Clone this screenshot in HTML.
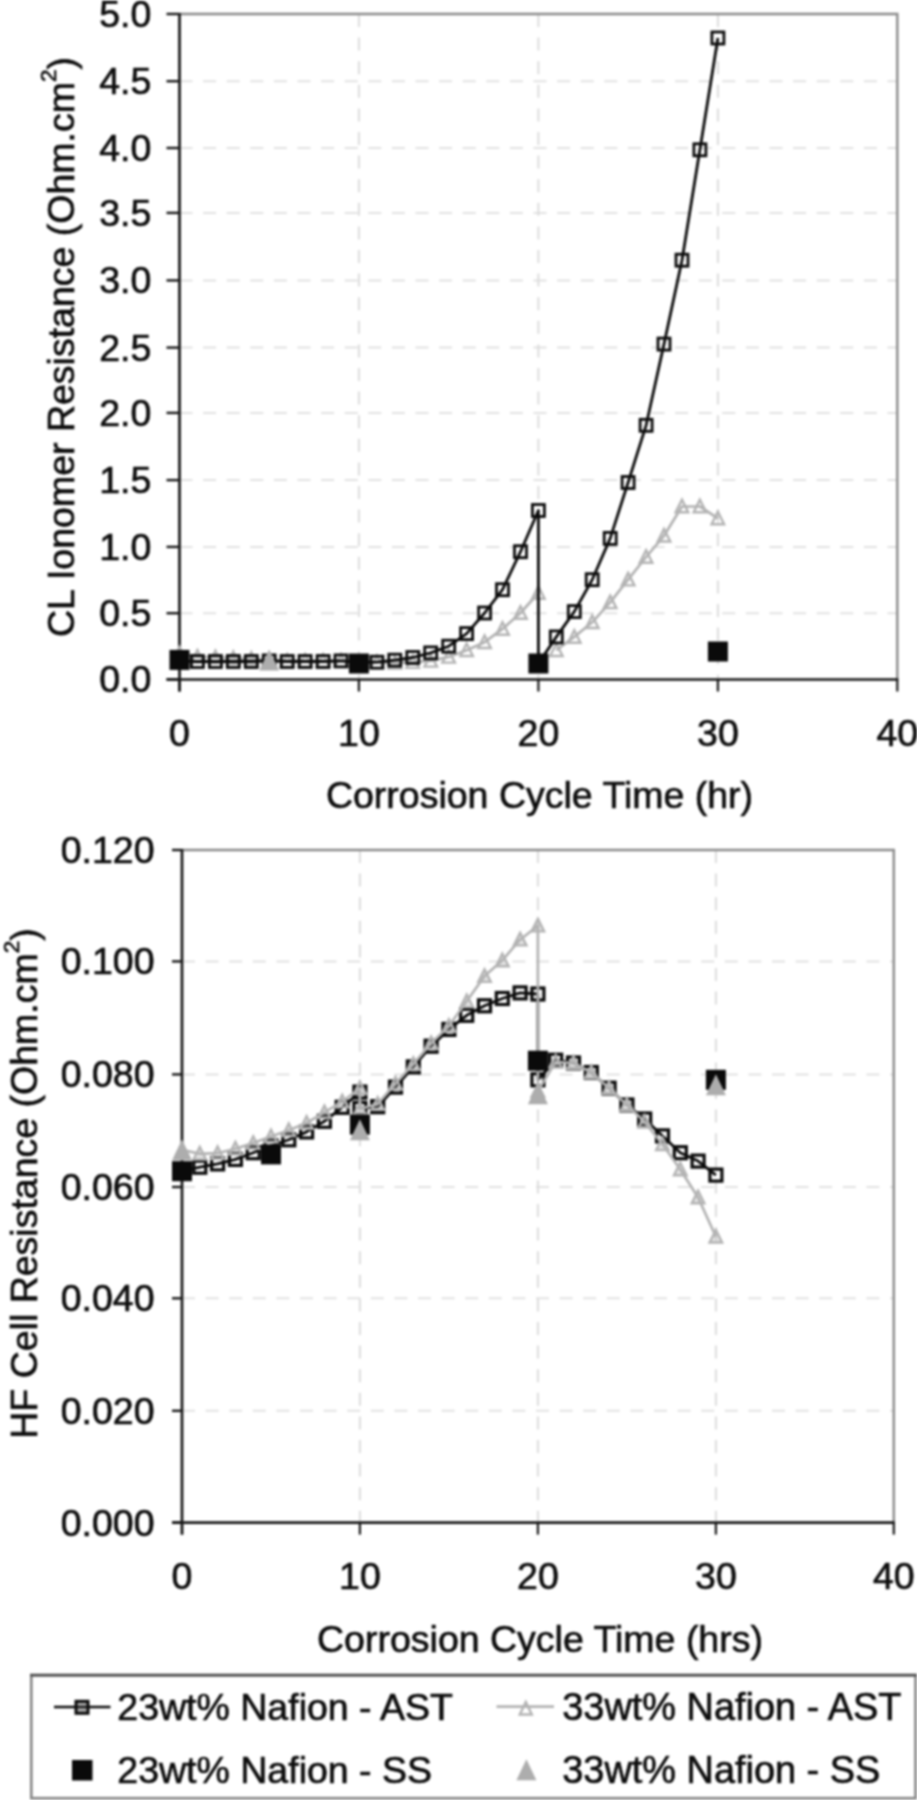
<!DOCTYPE html>
<html><head><meta charset="utf-8"><title>chart</title>
<style>
html,body{margin:0;padding:0;background:#fff;}
body{width:917px;height:1800px;overflow:hidden;font-family:"Liberation Sans", sans-serif;}
text{stroke:#0c0c0c;stroke-width:0.65px;}
svg{display:block;font-family:"Liberation Sans", sans-serif;fill:#0c0c0c;filter:blur(1px);}
</style></head><body>
<svg width="917" height="1800" viewBox="0 0 917 1800">
<rect x="0" y="0" width="917" height="1800" fill="#fff"/>
<line x1="179.5" y1="613.2" x2="897.3" y2="613.2" stroke="#e2e2e2" stroke-width="2" stroke-dasharray="13 10.6"/>
<line x1="179.5" y1="546.9" x2="897.3" y2="546.9" stroke="#e2e2e2" stroke-width="2" stroke-dasharray="13 10.6"/>
<line x1="179.5" y1="480.1" x2="897.3" y2="480.1" stroke="#e2e2e2" stroke-width="2" stroke-dasharray="13 10.6"/>
<line x1="179.5" y1="412.9" x2="897.3" y2="412.9" stroke="#e2e2e2" stroke-width="2" stroke-dasharray="13 10.6"/>
<line x1="179.5" y1="347.6" x2="897.3" y2="347.6" stroke="#e2e2e2" stroke-width="2" stroke-dasharray="13 10.6"/>
<line x1="179.5" y1="280.4" x2="897.3" y2="280.4" stroke="#e2e2e2" stroke-width="2" stroke-dasharray="13 10.6"/>
<line x1="179.5" y1="212.9" x2="897.3" y2="212.9" stroke="#e2e2e2" stroke-width="2" stroke-dasharray="13 10.6"/>
<line x1="179.5" y1="148.0" x2="897.3" y2="148.0" stroke="#e2e2e2" stroke-width="2" stroke-dasharray="13 10.6"/>
<line x1="179.5" y1="81.2" x2="897.3" y2="81.2" stroke="#e2e2e2" stroke-width="2" stroke-dasharray="13 10.6"/>
<line x1="358.9" y1="14.0" x2="358.9" y2="679.5" stroke="#dcdcdc" stroke-width="2" stroke-dasharray="13 10.6"/>
<line x1="538.4" y1="14.0" x2="538.4" y2="679.5" stroke="#dcdcdc" stroke-width="2" stroke-dasharray="13 10.6"/>
<line x1="717.9" y1="14.0" x2="717.9" y2="679.5" stroke="#dcdcdc" stroke-width="2" stroke-dasharray="13 10.6"/>
<polyline points="179.5,14.0 897.3,14.0 897.3,679.5" fill="none" stroke="#8a8a8a" stroke-width="2.4"/>
<line x1="179.5" y1="13.0" x2="179.5" y2="691.5" stroke="#161616" stroke-width="2.7"/>
<line x1="166.5" y1="679.5" x2="898.3" y2="679.5" stroke="#161616" stroke-width="2.7"/>
<line x1="166.5" y1="679.4" x2="179.5" y2="679.4" stroke="#161616" stroke-width="2.4"/>
<text x="151.3" y="692.4" font-size="37.5" text-anchor="end" >0.0</text>
<line x1="166.5" y1="613.2" x2="179.5" y2="613.2" stroke="#161616" stroke-width="2.4"/>
<text x="151.3" y="626.2" font-size="37.5" text-anchor="end" >0.5</text>
<line x1="166.5" y1="546.9" x2="179.5" y2="546.9" stroke="#161616" stroke-width="2.4"/>
<text x="151.3" y="559.9" font-size="37.5" text-anchor="end" >1.0</text>
<line x1="166.5" y1="480.1" x2="179.5" y2="480.1" stroke="#161616" stroke-width="2.4"/>
<text x="151.3" y="493.1" font-size="37.5" text-anchor="end" >1.5</text>
<line x1="166.5" y1="412.9" x2="179.5" y2="412.9" stroke="#161616" stroke-width="2.4"/>
<text x="151.3" y="425.9" font-size="37.5" text-anchor="end" >2.0</text>
<line x1="166.5" y1="347.6" x2="179.5" y2="347.6" stroke="#161616" stroke-width="2.4"/>
<text x="151.3" y="360.6" font-size="37.5" text-anchor="end" >2.5</text>
<line x1="166.5" y1="280.4" x2="179.5" y2="280.4" stroke="#161616" stroke-width="2.4"/>
<text x="151.3" y="293.4" font-size="37.5" text-anchor="end" >3.0</text>
<line x1="166.5" y1="212.9" x2="179.5" y2="212.9" stroke="#161616" stroke-width="2.4"/>
<text x="151.3" y="225.9" font-size="37.5" text-anchor="end" >3.5</text>
<line x1="166.5" y1="148.0" x2="179.5" y2="148.0" stroke="#161616" stroke-width="2.4"/>
<text x="151.3" y="161.0" font-size="37.5" text-anchor="end" >4.0</text>
<line x1="166.5" y1="81.2" x2="179.5" y2="81.2" stroke="#161616" stroke-width="2.4"/>
<text x="151.3" y="94.2" font-size="37.5" text-anchor="end" >4.5</text>
<line x1="166.5" y1="14.0" x2="179.5" y2="14.0" stroke="#161616" stroke-width="2.4"/>
<text x="151.3" y="27.0" font-size="37.5" text-anchor="end" >5.0</text>
<line x1="179.5" y1="679.5" x2="179.5" y2="691.5" stroke="#161616" stroke-width="2.2"/>
<text x="179.5" y="745.5" font-size="37.5" text-anchor="middle" >0</text>
<line x1="358.9" y1="679.5" x2="358.9" y2="691.5" stroke="#161616" stroke-width="2.2"/>
<text x="358.9" y="745.5" font-size="37.5" text-anchor="middle" >10</text>
<line x1="538.4" y1="679.5" x2="538.4" y2="691.5" stroke="#161616" stroke-width="2.2"/>
<text x="538.4" y="745.5" font-size="37.5" text-anchor="middle" >20</text>
<line x1="717.9" y1="679.5" x2="717.9" y2="691.5" stroke="#161616" stroke-width="2.2"/>
<text x="717.9" y="745.5" font-size="37.5" text-anchor="middle" >30</text>
<line x1="897.3" y1="679.5" x2="897.3" y2="691.5" stroke="#161616" stroke-width="2.2"/>
<text x="897.3" y="745.5" font-size="37.5" text-anchor="middle" >40</text>
<text x="539.5" y="808.0" font-size="37.5" text-anchor="middle" >Corrosion Cycle Time (hr)</text>
<text transform="translate(74.3,347) rotate(-90)" font-size="37.5" text-anchor="middle">CL Ionomer Resistance (Ohm.cm<tspan font-size="22.5" dy="-18.5">2</tspan><tspan dy="18.5">)</tspan></text>
<polyline points="179.5,653.5 197.4,656.9 215.4,657.5 233.3,658.2 251.3,658.9 269.2,659.5 287.2,660.9 305.1,660.9 323.1,660.9 341.0,660.9 358.9,662.2 376.9,662.2 394.8,662.9 412.8,662.2 430.7,660.9 448.7,656.9 466.6,650.2 484.6,642.2 502.5,628.9 520.5,613.0 538.4,593.0" fill="none" stroke="#b3b3b3" stroke-width="2.7" stroke-linejoin="round"/>
<polygon points="179.5,646.8 185.8,659.3 173.2,659.3" fill="none" stroke="#b3b3b3" stroke-width="2.4" stroke-linejoin="miter"/>
<polygon points="197.4,650.1 203.7,662.6 191.2,662.6" fill="none" stroke="#b3b3b3" stroke-width="2.4" stroke-linejoin="miter"/>
<polygon points="215.4,650.8 221.6,663.3 209.1,663.3" fill="none" stroke="#b3b3b3" stroke-width="2.4" stroke-linejoin="miter"/>
<polygon points="233.3,651.5 239.6,664.0 227.1,664.0" fill="none" stroke="#b3b3b3" stroke-width="2.4" stroke-linejoin="miter"/>
<polygon points="251.3,652.1 257.5,664.6 245.0,664.6" fill="none" stroke="#b3b3b3" stroke-width="2.4" stroke-linejoin="miter"/>
<polygon points="269.2,652.8 275.5,665.3 263.0,665.3" fill="none" stroke="#b3b3b3" stroke-width="2.4" stroke-linejoin="miter"/>
<polygon points="287.2,654.1 293.4,666.6 280.9,666.6" fill="none" stroke="#b3b3b3" stroke-width="2.4" stroke-linejoin="miter"/>
<polygon points="305.1,654.1 311.4,666.6 298.9,666.6" fill="none" stroke="#b3b3b3" stroke-width="2.4" stroke-linejoin="miter"/>
<polygon points="323.1,654.1 329.3,666.6 316.8,666.6" fill="none" stroke="#b3b3b3" stroke-width="2.4" stroke-linejoin="miter"/>
<polygon points="341.0,654.1 347.3,666.6 334.8,666.6" fill="none" stroke="#b3b3b3" stroke-width="2.4" stroke-linejoin="miter"/>
<polygon points="358.9,655.4 365.2,667.9 352.7,667.9" fill="none" stroke="#b3b3b3" stroke-width="2.4" stroke-linejoin="miter"/>
<polygon points="376.9,655.4 383.1,667.9 370.6,667.9" fill="none" stroke="#b3b3b3" stroke-width="2.4" stroke-linejoin="miter"/>
<polygon points="394.8,656.1 401.1,668.6 388.6,668.6" fill="none" stroke="#b3b3b3" stroke-width="2.4" stroke-linejoin="miter"/>
<polygon points="412.8,655.4 419.0,667.9 406.5,667.9" fill="none" stroke="#b3b3b3" stroke-width="2.4" stroke-linejoin="miter"/>
<polygon points="430.7,654.1 437.0,666.6 424.5,666.6" fill="none" stroke="#b3b3b3" stroke-width="2.4" stroke-linejoin="miter"/>
<polygon points="448.7,650.1 454.9,662.6 442.4,662.6" fill="none" stroke="#b3b3b3" stroke-width="2.4" stroke-linejoin="miter"/>
<polygon points="466.6,643.5 472.9,656.0 460.4,656.0" fill="none" stroke="#b3b3b3" stroke-width="2.4" stroke-linejoin="miter"/>
<polygon points="484.6,635.5 490.8,648.0 478.3,648.0" fill="none" stroke="#b3b3b3" stroke-width="2.4" stroke-linejoin="miter"/>
<polygon points="502.5,622.2 508.8,634.7 496.3,634.7" fill="none" stroke="#b3b3b3" stroke-width="2.4" stroke-linejoin="miter"/>
<polygon points="520.5,606.2 526.7,618.7 514.2,618.7" fill="none" stroke="#b3b3b3" stroke-width="2.4" stroke-linejoin="miter"/>
<polygon points="538.4,586.2 544.6,598.7 532.1,598.7" fill="none" stroke="#b3b3b3" stroke-width="2.4" stroke-linejoin="miter"/>
<polyline points="556.3,650.2 574.3,636.9 592.2,622.3 610.2,602.3 628.1,579.7 646.1,557.0 664.0,535.8 682.0,506.5 699.9,506.5 717.9,518.4" fill="none" stroke="#b3b3b3" stroke-width="2.7" stroke-linejoin="round"/>
<polygon points="556.3,643.5 562.6,656.0 550.1,656.0" fill="none" stroke="#b3b3b3" stroke-width="2.4" stroke-linejoin="miter"/>
<polygon points="574.3,630.2 580.5,642.7 568.0,642.7" fill="none" stroke="#b3b3b3" stroke-width="2.4" stroke-linejoin="miter"/>
<polygon points="592.2,615.5 598.5,628.0 586.0,628.0" fill="none" stroke="#b3b3b3" stroke-width="2.4" stroke-linejoin="miter"/>
<polygon points="610.2,595.6 616.4,608.1 603.9,608.1" fill="none" stroke="#b3b3b3" stroke-width="2.4" stroke-linejoin="miter"/>
<polygon points="628.1,572.9 634.4,585.4 621.9,585.4" fill="none" stroke="#b3b3b3" stroke-width="2.4" stroke-linejoin="miter"/>
<polygon points="646.1,550.3 652.3,562.8 639.8,562.8" fill="none" stroke="#b3b3b3" stroke-width="2.4" stroke-linejoin="miter"/>
<polygon points="664.0,529.0 670.3,541.5 657.8,541.5" fill="none" stroke="#b3b3b3" stroke-width="2.4" stroke-linejoin="miter"/>
<polygon points="682.0,499.7 688.2,512.2 675.7,512.2" fill="none" stroke="#b3b3b3" stroke-width="2.4" stroke-linejoin="miter"/>
<polygon points="699.9,499.7 706.2,512.2 693.7,512.2" fill="none" stroke="#b3b3b3" stroke-width="2.4" stroke-linejoin="miter"/>
<polygon points="717.9,511.7 724.1,524.2 711.6,524.2" fill="none" stroke="#b3b3b3" stroke-width="2.4" stroke-linejoin="miter"/>
<polyline points="179.5,660.9 197.4,661.5 215.4,661.5 233.3,661.5 251.3,661.5 269.2,660.9 287.2,661.5 305.1,661.5 323.1,661.5 341.0,660.9 358.9,662.2 376.9,662.2 394.8,660.2 412.8,657.5 430.7,652.9 448.7,646.2 466.6,633.6 484.6,613.0 502.5,589.7 520.5,551.7 538.4,510.5 538.4,663.5 556.3,636.9 574.3,611.6 592.2,579.7 610.2,538.4 628.1,482.5 646.1,425.3 664.0,344.1 682.0,260.2 699.9,149.8 717.9,38.0" fill="none" stroke="#0a0a0a" stroke-width="2.8" stroke-linejoin="round"/>
<rect x="173.5" y="654.9" width="12" height="12" fill="none" stroke="#0a0a0a" stroke-width="2.8"/>
<rect x="191.4" y="655.5" width="12" height="12" fill="none" stroke="#0a0a0a" stroke-width="2.8"/>
<rect x="209.4" y="655.5" width="12" height="12" fill="none" stroke="#0a0a0a" stroke-width="2.8"/>
<rect x="227.3" y="655.5" width="12" height="12" fill="none" stroke="#0a0a0a" stroke-width="2.8"/>
<rect x="245.3" y="655.5" width="12" height="12" fill="none" stroke="#0a0a0a" stroke-width="2.8"/>
<rect x="263.2" y="654.9" width="12" height="12" fill="none" stroke="#0a0a0a" stroke-width="2.8"/>
<rect x="281.2" y="655.5" width="12" height="12" fill="none" stroke="#0a0a0a" stroke-width="2.8"/>
<rect x="299.1" y="655.5" width="12" height="12" fill="none" stroke="#0a0a0a" stroke-width="2.8"/>
<rect x="317.1" y="655.5" width="12" height="12" fill="none" stroke="#0a0a0a" stroke-width="2.8"/>
<rect x="335.0" y="654.9" width="12" height="12" fill="none" stroke="#0a0a0a" stroke-width="2.8"/>
<rect x="352.9" y="656.2" width="12" height="12" fill="none" stroke="#0a0a0a" stroke-width="2.8"/>
<rect x="370.9" y="656.2" width="12" height="12" fill="none" stroke="#0a0a0a" stroke-width="2.8"/>
<rect x="388.8" y="654.2" width="12" height="12" fill="none" stroke="#0a0a0a" stroke-width="2.8"/>
<rect x="406.8" y="651.5" width="12" height="12" fill="none" stroke="#0a0a0a" stroke-width="2.8"/>
<rect x="424.7" y="646.9" width="12" height="12" fill="none" stroke="#0a0a0a" stroke-width="2.8"/>
<rect x="442.7" y="640.2" width="12" height="12" fill="none" stroke="#0a0a0a" stroke-width="2.8"/>
<rect x="460.6" y="627.6" width="12" height="12" fill="none" stroke="#0a0a0a" stroke-width="2.8"/>
<rect x="478.6" y="607.0" width="12" height="12" fill="none" stroke="#0a0a0a" stroke-width="2.8"/>
<rect x="496.5" y="583.7" width="12" height="12" fill="none" stroke="#0a0a0a" stroke-width="2.8"/>
<rect x="514.5" y="545.7" width="12" height="12" fill="none" stroke="#0a0a0a" stroke-width="2.8"/>
<rect x="532.4" y="504.5" width="12" height="12" fill="none" stroke="#0a0a0a" stroke-width="2.8"/>
<rect x="532.4" y="657.5" width="12" height="12" fill="none" stroke="#0a0a0a" stroke-width="2.8"/>
<rect x="550.3" y="630.9" width="12" height="12" fill="none" stroke="#0a0a0a" stroke-width="2.8"/>
<rect x="568.3" y="605.6" width="12" height="12" fill="none" stroke="#0a0a0a" stroke-width="2.8"/>
<rect x="586.2" y="573.7" width="12" height="12" fill="none" stroke="#0a0a0a" stroke-width="2.8"/>
<rect x="604.2" y="532.4" width="12" height="12" fill="none" stroke="#0a0a0a" stroke-width="2.8"/>
<rect x="622.1" y="476.5" width="12" height="12" fill="none" stroke="#0a0a0a" stroke-width="2.8"/>
<rect x="640.1" y="419.3" width="12" height="12" fill="none" stroke="#0a0a0a" stroke-width="2.8"/>
<rect x="658.0" y="338.1" width="12" height="12" fill="none" stroke="#0a0a0a" stroke-width="2.8"/>
<rect x="676.0" y="254.2" width="12" height="12" fill="none" stroke="#0a0a0a" stroke-width="2.8"/>
<rect x="693.9" y="143.8" width="12" height="12" fill="none" stroke="#0a0a0a" stroke-width="2.8"/>
<rect x="711.9" y="32.0" width="12" height="12" fill="none" stroke="#0a0a0a" stroke-width="2.8"/>
<polygon points="269.2,649.4 279.2,670.4 259.2,670.4" fill="#adadad" stroke="#adadad" stroke-width="0" stroke-linejoin="miter"/>
<rect x="169.5" y="649.9" width="20" height="20" fill="#0a0a0a"/>
<rect x="348.9" y="653.5" width="20" height="20" fill="#0a0a0a"/>
<rect x="528.4" y="653.5" width="20" height="20" fill="#0a0a0a"/>
<rect x="707.9" y="641.5" width="20" height="20" fill="#0a0a0a"/>
<line x1="182.0" y1="1410.8" x2="893.8" y2="1410.8" stroke="#e2e2e2" stroke-width="2" stroke-dasharray="13 10.6"/>
<line x1="182.0" y1="1298.3" x2="893.8" y2="1298.3" stroke="#e2e2e2" stroke-width="2" stroke-dasharray="13 10.6"/>
<line x1="182.0" y1="1187.0" x2="893.8" y2="1187.0" stroke="#e2e2e2" stroke-width="2" stroke-dasharray="13 10.6"/>
<line x1="182.0" y1="1074.4" x2="893.8" y2="1074.4" stroke="#e2e2e2" stroke-width="2" stroke-dasharray="13 10.6"/>
<line x1="182.0" y1="961.4" x2="893.8" y2="961.4" stroke="#e2e2e2" stroke-width="2" stroke-dasharray="13 10.6"/>
<line x1="359.9" y1="850.0" x2="359.9" y2="1522.6" stroke="#dcdcdc" stroke-width="2" stroke-dasharray="13 10.6"/>
<line x1="537.9" y1="850.0" x2="537.9" y2="1522.6" stroke="#dcdcdc" stroke-width="2" stroke-dasharray="13 10.6"/>
<line x1="715.9" y1="850.0" x2="715.9" y2="1522.6" stroke="#dcdcdc" stroke-width="2" stroke-dasharray="13 10.6"/>
<polyline points="182.0,850.0 893.8,850.0 893.8,1522.6" fill="none" stroke="#8a8a8a" stroke-width="2.4"/>
<line x1="182.0" y1="849.0" x2="182.0" y2="1534.6" stroke="#161616" stroke-width="2.7"/>
<line x1="172.0" y1="1522.6" x2="894.8" y2="1522.6" stroke="#161616" stroke-width="2.7"/>
<line x1="172.0" y1="1522.6" x2="182.0" y2="1522.6" stroke="#161616" stroke-width="2.4"/>
<text x="154.5" y="1535.6" font-size="37.5" text-anchor="end" >0.000</text>
<line x1="172.0" y1="1410.8" x2="182.0" y2="1410.8" stroke="#161616" stroke-width="2.4"/>
<text x="154.5" y="1423.8" font-size="37.5" text-anchor="end" >0.020</text>
<line x1="172.0" y1="1298.3" x2="182.0" y2="1298.3" stroke="#161616" stroke-width="2.4"/>
<text x="154.5" y="1311.3" font-size="37.5" text-anchor="end" >0.040</text>
<line x1="172.0" y1="1187.0" x2="182.0" y2="1187.0" stroke="#161616" stroke-width="2.4"/>
<text x="154.5" y="1200.0" font-size="37.5" text-anchor="end" >0.060</text>
<line x1="172.0" y1="1074.4" x2="182.0" y2="1074.4" stroke="#161616" stroke-width="2.4"/>
<text x="154.5" y="1087.4" font-size="37.5" text-anchor="end" >0.080</text>
<line x1="172.0" y1="961.4" x2="182.0" y2="961.4" stroke="#161616" stroke-width="2.4"/>
<text x="154.5" y="974.4" font-size="37.5" text-anchor="end" >0.100</text>
<line x1="172.0" y1="850.0" x2="182.0" y2="850.0" stroke="#161616" stroke-width="2.4"/>
<text x="154.5" y="863.0" font-size="37.5" text-anchor="end" >0.120</text>
<line x1="182.0" y1="1522.6" x2="182.0" y2="1534.6" stroke="#161616" stroke-width="2.2"/>
<text x="182.0" y="1588.6" font-size="37.5" text-anchor="middle" >0</text>
<line x1="359.9" y1="1522.6" x2="359.9" y2="1534.6" stroke="#161616" stroke-width="2.2"/>
<text x="359.9" y="1588.6" font-size="37.5" text-anchor="middle" >10</text>
<line x1="537.9" y1="1522.6" x2="537.9" y2="1534.6" stroke="#161616" stroke-width="2.2"/>
<text x="537.9" y="1588.6" font-size="37.5" text-anchor="middle" >20</text>
<line x1="715.9" y1="1522.6" x2="715.9" y2="1534.6" stroke="#161616" stroke-width="2.2"/>
<text x="715.9" y="1588.6" font-size="37.5" text-anchor="middle" >30</text>
<line x1="893.8" y1="1522.6" x2="893.8" y2="1534.6" stroke="#161616" stroke-width="2.2"/>
<text x="893.8" y="1588.6" font-size="37.5" text-anchor="middle" >40</text>
<text x="540.0" y="1652.0" font-size="37.5" text-anchor="middle" >Corrosion Cycle Time (hrs)</text>
<text transform="translate(37.3,1183.5) rotate(-90)" font-size="37.5" text-anchor="middle">HF Cell Resistance (Ohm.cm<tspan font-size="22.5" dy="-18.5">2</tspan><tspan dy="18.5">)</tspan></text>
<polyline points="182.0,1171.2 199.8,1167.2 217.6,1163.9 235.4,1159.4 253.2,1152.7 271.0,1145.9 288.8,1139.8 306.6,1131.9 324.4,1121.3 342.2,1107.3 359.9,1092.1 359.9,1108.4 377.7,1106.7 395.5,1087.1 413.3,1066.9 431.1,1046.2 448.9,1029.4 466.7,1015.3 484.5,1005.8 502.3,998.5 520.1,992.9 537.9,994.0 537.9,1079.8 555.7,1060.2 573.5,1063.0 591.3,1072.5 609.1,1088.2 626.9,1105.0 644.7,1119.0 662.5,1135.9 680.3,1152.7 698.1,1161.1 715.9,1175.1" fill="none" stroke="#0a0a0a" stroke-width="2.8" stroke-linejoin="round"/>
<rect x="176.0" y="1165.2" width="12" height="12" fill="none" stroke="#0a0a0a" stroke-width="3.2"/>
<rect x="193.8" y="1161.2" width="12" height="12" fill="none" stroke="#0a0a0a" stroke-width="3.2"/>
<rect x="211.6" y="1157.9" width="12" height="12" fill="none" stroke="#0a0a0a" stroke-width="3.2"/>
<rect x="229.4" y="1153.4" width="12" height="12" fill="none" stroke="#0a0a0a" stroke-width="3.2"/>
<rect x="247.2" y="1146.7" width="12" height="12" fill="none" stroke="#0a0a0a" stroke-width="3.2"/>
<rect x="265.0" y="1139.9" width="12" height="12" fill="none" stroke="#0a0a0a" stroke-width="3.2"/>
<rect x="282.8" y="1133.8" width="12" height="12" fill="none" stroke="#0a0a0a" stroke-width="3.2"/>
<rect x="300.6" y="1125.9" width="12" height="12" fill="none" stroke="#0a0a0a" stroke-width="3.2"/>
<rect x="318.4" y="1115.3" width="12" height="12" fill="none" stroke="#0a0a0a" stroke-width="3.2"/>
<rect x="336.2" y="1101.3" width="12" height="12" fill="none" stroke="#0a0a0a" stroke-width="3.2"/>
<rect x="353.9" y="1086.1" width="12" height="12" fill="none" stroke="#0a0a0a" stroke-width="3.2"/>
<rect x="353.9" y="1102.4" width="12" height="12" fill="none" stroke="#0a0a0a" stroke-width="3.2"/>
<rect x="371.7" y="1100.7" width="12" height="12" fill="none" stroke="#0a0a0a" stroke-width="3.2"/>
<rect x="389.5" y="1081.1" width="12" height="12" fill="none" stroke="#0a0a0a" stroke-width="3.2"/>
<rect x="407.3" y="1060.9" width="12" height="12" fill="none" stroke="#0a0a0a" stroke-width="3.2"/>
<rect x="425.1" y="1040.2" width="12" height="12" fill="none" stroke="#0a0a0a" stroke-width="3.2"/>
<rect x="442.9" y="1023.4" width="12" height="12" fill="none" stroke="#0a0a0a" stroke-width="3.2"/>
<rect x="460.7" y="1009.3" width="12" height="12" fill="none" stroke="#0a0a0a" stroke-width="3.2"/>
<rect x="478.5" y="999.8" width="12" height="12" fill="none" stroke="#0a0a0a" stroke-width="3.2"/>
<rect x="496.3" y="992.5" width="12" height="12" fill="none" stroke="#0a0a0a" stroke-width="3.2"/>
<rect x="514.1" y="986.9" width="12" height="12" fill="none" stroke="#0a0a0a" stroke-width="3.2"/>
<rect x="531.9" y="988.0" width="12" height="12" fill="none" stroke="#0a0a0a" stroke-width="3.2"/>
<rect x="531.9" y="1073.8" width="12" height="12" fill="none" stroke="#0a0a0a" stroke-width="3.2"/>
<rect x="549.7" y="1054.2" width="12" height="12" fill="none" stroke="#0a0a0a" stroke-width="3.2"/>
<rect x="567.5" y="1057.0" width="12" height="12" fill="none" stroke="#0a0a0a" stroke-width="3.2"/>
<rect x="585.3" y="1066.5" width="12" height="12" fill="none" stroke="#0a0a0a" stroke-width="3.2"/>
<rect x="603.1" y="1082.2" width="12" height="12" fill="none" stroke="#0a0a0a" stroke-width="3.2"/>
<rect x="620.9" y="1099.0" width="12" height="12" fill="none" stroke="#0a0a0a" stroke-width="3.2"/>
<rect x="638.7" y="1113.0" width="12" height="12" fill="none" stroke="#0a0a0a" stroke-width="3.2"/>
<rect x="656.5" y="1129.9" width="12" height="12" fill="none" stroke="#0a0a0a" stroke-width="3.2"/>
<rect x="674.3" y="1146.7" width="12" height="12" fill="none" stroke="#0a0a0a" stroke-width="3.2"/>
<rect x="692.1" y="1155.1" width="12" height="12" fill="none" stroke="#0a0a0a" stroke-width="3.2"/>
<rect x="709.9" y="1169.1" width="12" height="12" fill="none" stroke="#0a0a0a" stroke-width="3.2"/>
<polyline points="182.0,1149.9 199.8,1153.8 217.6,1153.2 235.4,1148.7 253.2,1143.1 271.0,1136.4 288.8,1130.2 306.6,1123.0 324.4,1112.3 342.2,1101.7 359.9,1088.2 359.9,1109.0 377.7,1103.9 395.5,1083.7 413.3,1064.1 431.1,1043.4 448.9,1026.0 466.7,1001.3 484.5,976.1 502.3,960.4 520.1,939.7 537.9,925.7 537.9,1091.0 555.7,1061.9 573.5,1063.0 591.3,1072.5 609.1,1088.2 626.9,1105.0 644.7,1121.8 662.5,1144.3 680.3,1169.5 698.1,1197.5 715.9,1236.7" fill="none" stroke="#b3b3b3" stroke-width="2.7" stroke-linejoin="round"/>
<polygon points="182.0,1143.1 188.2,1155.6 175.8,1155.6" fill="rgba(179,179,179,0.35)" stroke="#b3b3b3" stroke-width="2.4" stroke-linejoin="miter"/>
<polygon points="199.8,1147.0 206.0,1159.5 193.5,1159.5" fill="rgba(179,179,179,0.35)" stroke="#b3b3b3" stroke-width="2.4" stroke-linejoin="miter"/>
<polygon points="217.6,1146.5 223.8,1159.0 211.3,1159.0" fill="rgba(179,179,179,0.35)" stroke="#b3b3b3" stroke-width="2.4" stroke-linejoin="miter"/>
<polygon points="235.4,1142.0 241.6,1154.5 229.1,1154.5" fill="rgba(179,179,179,0.35)" stroke="#b3b3b3" stroke-width="2.4" stroke-linejoin="miter"/>
<polygon points="253.2,1136.4 259.4,1148.9 246.9,1148.9" fill="rgba(179,179,179,0.35)" stroke="#b3b3b3" stroke-width="2.4" stroke-linejoin="miter"/>
<polygon points="271.0,1129.7 277.2,1142.2 264.7,1142.2" fill="rgba(179,179,179,0.35)" stroke="#b3b3b3" stroke-width="2.4" stroke-linejoin="miter"/>
<polygon points="288.8,1123.5 295.0,1136.0 282.5,1136.0" fill="rgba(179,179,179,0.35)" stroke="#b3b3b3" stroke-width="2.4" stroke-linejoin="miter"/>
<polygon points="306.6,1116.2 312.8,1128.7 300.3,1128.7" fill="rgba(179,179,179,0.35)" stroke="#b3b3b3" stroke-width="2.4" stroke-linejoin="miter"/>
<polygon points="324.4,1105.6 330.6,1118.1 318.1,1118.1" fill="rgba(179,179,179,0.35)" stroke="#b3b3b3" stroke-width="2.4" stroke-linejoin="miter"/>
<polygon points="342.2,1094.9 348.4,1107.4 335.9,1107.4" fill="rgba(179,179,179,0.35)" stroke="#b3b3b3" stroke-width="2.4" stroke-linejoin="miter"/>
<polygon points="359.9,1081.5 366.2,1094.0 353.7,1094.0" fill="rgba(179,179,179,0.35)" stroke="#b3b3b3" stroke-width="2.4" stroke-linejoin="miter"/>
<polygon points="359.9,1102.2 366.2,1114.7 353.7,1114.7" fill="rgba(179,179,179,0.35)" stroke="#b3b3b3" stroke-width="2.4" stroke-linejoin="miter"/>
<polygon points="377.7,1097.2 384.0,1109.7 371.5,1109.7" fill="rgba(179,179,179,0.35)" stroke="#b3b3b3" stroke-width="2.4" stroke-linejoin="miter"/>
<polygon points="395.5,1077.0 401.8,1089.5 389.3,1089.5" fill="rgba(179,179,179,0.35)" stroke="#b3b3b3" stroke-width="2.4" stroke-linejoin="miter"/>
<polygon points="413.3,1057.4 419.6,1069.9 407.1,1069.9" fill="rgba(179,179,179,0.35)" stroke="#b3b3b3" stroke-width="2.4" stroke-linejoin="miter"/>
<polygon points="431.1,1036.6 437.4,1049.1 424.9,1049.1" fill="rgba(179,179,179,0.35)" stroke="#b3b3b3" stroke-width="2.4" stroke-linejoin="miter"/>
<polygon points="448.9,1019.2 455.2,1031.7 442.7,1031.7" fill="rgba(179,179,179,0.35)" stroke="#b3b3b3" stroke-width="2.4" stroke-linejoin="miter"/>
<polygon points="466.7,994.6 473.0,1007.1 460.5,1007.1" fill="rgba(179,179,179,0.35)" stroke="#b3b3b3" stroke-width="2.4" stroke-linejoin="miter"/>
<polygon points="484.5,969.4 490.8,981.9 478.3,981.9" fill="rgba(179,179,179,0.35)" stroke="#b3b3b3" stroke-width="2.4" stroke-linejoin="miter"/>
<polygon points="502.3,953.7 508.6,966.2 496.1,966.2" fill="rgba(179,179,179,0.35)" stroke="#b3b3b3" stroke-width="2.4" stroke-linejoin="miter"/>
<polygon points="520.1,932.9 526.4,945.4 513.9,945.4" fill="rgba(179,179,179,0.35)" stroke="#b3b3b3" stroke-width="2.4" stroke-linejoin="miter"/>
<polygon points="537.9,918.9 544.1,931.4 531.6,931.4" fill="rgba(179,179,179,0.35)" stroke="#b3b3b3" stroke-width="2.4" stroke-linejoin="miter"/>
<polygon points="537.9,1084.3 544.1,1096.8 531.6,1096.8" fill="rgba(179,179,179,0.35)" stroke="#b3b3b3" stroke-width="2.4" stroke-linejoin="miter"/>
<polygon points="555.7,1055.1 561.9,1067.6 549.4,1067.6" fill="rgba(179,179,179,0.35)" stroke="#b3b3b3" stroke-width="2.4" stroke-linejoin="miter"/>
<polygon points="573.5,1056.2 579.7,1068.7 567.2,1068.7" fill="rgba(179,179,179,0.35)" stroke="#b3b3b3" stroke-width="2.4" stroke-linejoin="miter"/>
<polygon points="591.3,1065.8 597.5,1078.3 585.0,1078.3" fill="rgba(179,179,179,0.35)" stroke="#b3b3b3" stroke-width="2.4" stroke-linejoin="miter"/>
<polygon points="609.1,1081.5 615.3,1094.0 602.8,1094.0" fill="rgba(179,179,179,0.35)" stroke="#b3b3b3" stroke-width="2.4" stroke-linejoin="miter"/>
<polygon points="626.9,1098.3 633.1,1110.8 620.6,1110.8" fill="rgba(179,179,179,0.35)" stroke="#b3b3b3" stroke-width="2.4" stroke-linejoin="miter"/>
<polygon points="644.7,1115.1 650.9,1127.6 638.4,1127.6" fill="rgba(179,179,179,0.35)" stroke="#b3b3b3" stroke-width="2.4" stroke-linejoin="miter"/>
<polygon points="662.5,1137.5 668.7,1150.0 656.2,1150.0" fill="rgba(179,179,179,0.35)" stroke="#b3b3b3" stroke-width="2.4" stroke-linejoin="miter"/>
<polygon points="680.3,1162.7 686.5,1175.2 674.0,1175.2" fill="rgba(179,179,179,0.35)" stroke="#b3b3b3" stroke-width="2.4" stroke-linejoin="miter"/>
<polygon points="698.1,1190.8 704.3,1203.3 691.8,1203.3" fill="rgba(179,179,179,0.35)" stroke="#b3b3b3" stroke-width="2.4" stroke-linejoin="miter"/>
<polygon points="715.9,1230.0 722.1,1242.5 709.6,1242.5" fill="rgba(179,179,179,0.35)" stroke="#b3b3b3" stroke-width="2.4" stroke-linejoin="miter"/>
<rect x="172.0" y="1161.2" width="20" height="20" fill="#0a0a0a"/>
<rect x="261.0" y="1144.4" width="20" height="20" fill="#0a0a0a"/>
<rect x="349.9" y="1114.6" width="20" height="20" fill="#0a0a0a"/>
<rect x="527.9" y="1050.7" width="20" height="20" fill="#0a0a0a"/>
<rect x="705.9" y="1069.8" width="20" height="20" fill="#0a0a0a"/>
<polygon points="182.0,1139.4 192.0,1160.4 172.0,1160.4" fill="#adadad" stroke="#adadad" stroke-width="0" stroke-linejoin="miter"/>
<polygon points="359.9,1119.2 369.9,1140.2 349.9,1140.2" fill="#adadad" stroke="#adadad" stroke-width="0" stroke-linejoin="miter"/>
<polygon points="537.9,1083.3 547.9,1104.3 527.9,1104.3" fill="#adadad" stroke="#adadad" stroke-width="0" stroke-linejoin="miter"/>
<polygon points="715.9,1074.3 725.9,1095.3 705.9,1095.3" fill="#adadad" stroke="#adadad" stroke-width="0" stroke-linejoin="miter"/>
<rect x="31.3" y="1675.2" width="884.2" height="123" fill="#fff" stroke="#858585" stroke-width="2.6"/>
<line x1="30" y1="1675.2" x2="916.8" y2="1675.2" stroke="#505050" stroke-width="2.8"/>
<line x1="54" y1="1707" x2="110.5" y2="1707" stroke="#0a0a0a" stroke-width="2.6"/>
<rect x="76.0" y="1701.3" width="12" height="12" fill="rgba(60,60,60,0.45)" stroke="#0a0a0a" stroke-width="3.0"/>
<text x="117.3" y="1720.0" font-size="37.5" text-anchor="start" >23wt% Nafion - AST</text>
<rect x="72.0" y="1760.0" width="20.5" height="20.5" fill="#0a0a0a"/>
<text x="117.3" y="1782.5" font-size="37.5" text-anchor="start" >23wt% Nafion - SS</text>
<line x1="496.5" y1="1706.6" x2="554" y2="1706.6" stroke="#b3b3b3" stroke-width="2.6"/>
<polygon points="525.8,1702.0 531.8,1714.5 519.8,1714.5" fill="none" stroke="#b3b3b3" stroke-width="2.4" stroke-linejoin="miter"/>
<text x="562.3" y="1720.0" font-size="37.9" text-anchor="start" >33wt% Nafion - AST</text>
<polygon points="526.4,1759.3 536.4,1780.3 516.4,1780.3" fill="#adadad" stroke="#adadad" stroke-width="0" stroke-linejoin="miter"/>
<text x="562.3" y="1782.5" font-size="37.9" text-anchor="start" >33wt% Nafion - SS</text>
</svg></body></html>
